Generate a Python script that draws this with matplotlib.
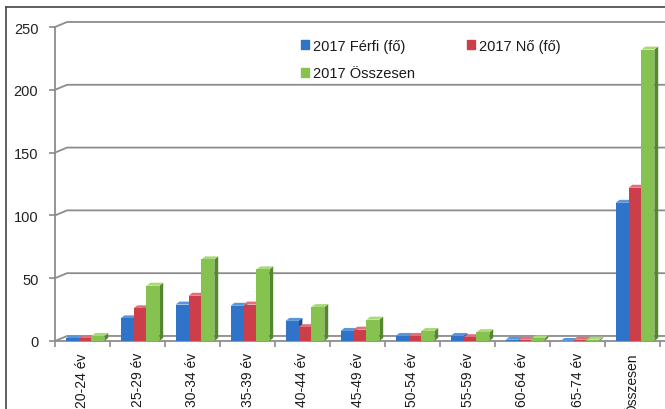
import matplotlib
matplotlib.use("Agg")
import matplotlib.pyplot as plt
import numpy as np
from matplotlib.patches import Polygon
from matplotlib.lines import Line2D

plt.rcParams['font.family'] = ['Liberation Sans', 'DejaVu Sans']

# data
categories = ['20-24 év', '25-29 év', '30-34 év', '35-39 év', '40-44 év', '45-49 év',
              '50-54 év', '55-59 év', '60-64 év', '65-74 év', 'Összesen']
ferfi = [2, 18, 29, 28, 16, 8, 4, 4, 1, 0, 110]
no = [2, 26, 36, 29, 11, 9, 4, 3, 1, 1, 122]
osszesen = [4, 44, 65, 57, 27, 17, 8, 7, 2, 1, 232]
series_names = ['2017 Férfi (fő)', '2017 Nő (fő)', '2017 Összesen']

# front, side, top colours
colors = [('#2f74c8', '#1d4c86', '#5b96db'),
          ('#cc3e4a', '#8a2830', '#e0707a'),
          ('#86c24f', '#55872f', '#aad97c')]

fig = plt.figure(figsize=(6.65, 4.10), dpi=100)
ax = fig.add_axes([55/665, 68/410, 605/665, 314/410])
ax.set_xlim(-0.5, 10.5)
ax.set_ylim(0, 250)

grid_col = '#8c8c8c'
wdx, wdy = 0.22, 4.0   # back wall offset
bdx, bdy = 0.07, 2.4   # bar depth
width = 0.235
offsets = [-0.19, 0.045, 0.28]

# back wall gridlines and floor
for v in [0, 50, 100, 150, 200, 250]:
    ax.plot([-0.5, -0.5 + wdx, 10.6], [v, v + wdy, v + wdy], color=grid_col, lw=1.3,
            clip_on=False, zorder=1)
ax.plot([-0.5, 10.6], [0, 0], color=grid_col, lw=1.3, clip_on=False, zorder=1)
ax.plot([-0.5, -0.5], [0, 250], color=grid_col, lw=1.3, clip_on=False, zorder=1)

# bars with a little fake depth
z = 2
series = [ferfi, no, osszesen]
x = np.arange(len(categories))
for i in x:
    for s, vals in enumerate(series):
        front, side, top = colors[s]
        x0 = i + offsets[s] - width / 2
        x1 = x0 + width
        h = vals[i]
        ax.add_patch(Polygon([(x1, 0), (x1 + bdx, bdy), (x1 + bdx, h + bdy), (x1, h)],
                             closed=True, facecolor=side, edgecolor='none', zorder=z))
        ax.add_patch(Polygon([(x0, h), (x0 + bdx, h + bdy), (x1 + bdx, h + bdy), (x1, h)],
                             closed=True, facecolor=top, edgecolor='none', zorder=z))
        ax.bar(x0, h, width=width, align='edge', color=front, zorder=z + 1)
        z += 2

for sp in ax.spines.values():
    sp.set_visible(False)

ax.set_yticks([0, 50, 100, 150, 200, 250])
ax.tick_params(axis='y', length=4, color=grid_col, width=1.2, labelsize=10.5,
               labelcolor='#222222', pad=8)
ax.set_xticks(x)
ax.set_xticklabels(categories, rotation=90, fontsize=10, color='#1a1a1a')
ax.tick_params(axis='x', length=0, pad=8)
ax.set_xticks(np.arange(-0.5, 11, 1), minor=True)
ax.tick_params(axis='x', which='minor', length=4, color=grid_col, width=1.2)

handles = [plt.Rectangle((0, 0), 1, 1, color=colors[0][0]),
           plt.Rectangle((0, 0), 1, 1, color=colors[2][0]),
           plt.Rectangle((0, 0), 1, 1, color=colors[1][0])]
labels = [series_names[0], series_names[2], series_names[1]]
leg = ax.legend(handles, labels, ncol=2, loc='upper left', bbox_to_anchor=(0.385, 1.005),
                frameon=False, fontsize=10.5, handlelength=0.55, handleheight=0.55,
                handletextpad=0.25, columnspacing=3.6, labelspacing=0.95)
for t in leg.get_texts():
    t.set_color('#1a1a1a')

# outer chart frame
fig.add_artist(Line2D([6/665, 1], [1 - 8/410, 1 - 8/410], color='#444444', lw=1.2))
fig.add_artist(Line2D([6/665, 6/665], [0, 1 - 8/410], color='#444444', lw=1.2))

fig.savefig('out.png', dpi=100)
